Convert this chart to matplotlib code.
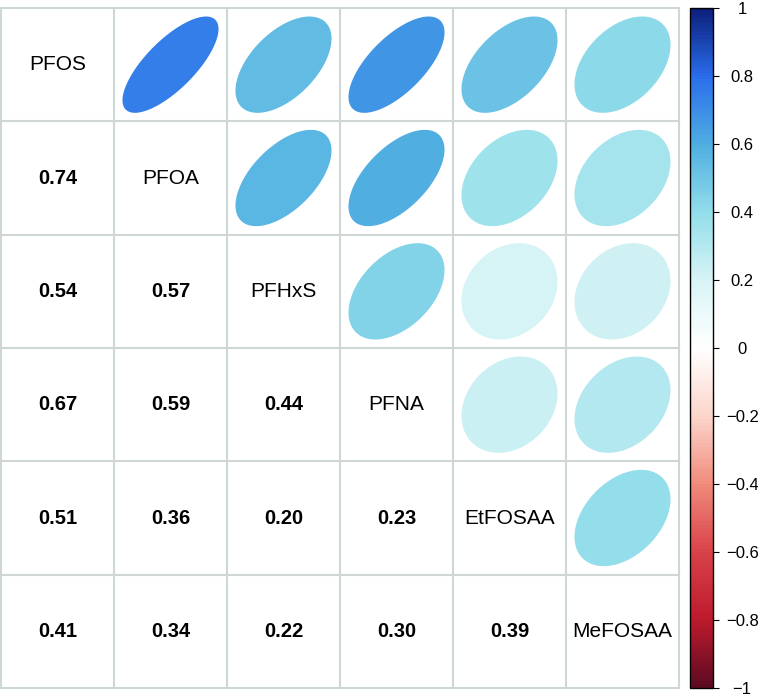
import numpy as np
import matplotlib.pyplot as plt
from matplotlib.colors import LinearSegmentedColormap, Normalize
from matplotlib.patches import Polygon
import matplotlib as mpl

plt.rcParams['font.family'] = ['Liberation Sans', 'DejaVu Sans']

labels = ["PFOS", "PFOA", "PFHxS", "PFNA", "EtFOSAA", "MeFOSAA"]
corr = np.array([
    [1.00, 0.74, 0.54, 0.67, 0.51, 0.41],
    [0.74, 1.00, 0.57, 0.59, 0.36, 0.34],
    [0.54, 0.57, 1.00, 0.44, 0.20, 0.22],
    [0.67, 0.59, 0.44, 1.00, 0.23, 0.30],
    [0.51, 0.36, 0.20, 0.23, 1.00, 0.39],
    [0.41, 0.34, 0.22, 0.30, 0.39, 1.00],
])
cbar_ticks = [-1, -0.8, -0.6, -0.4, -0.2, 0, 0.2, 0.4, 0.6, 0.8, 1]
cbar_labels = ["\u22121", "\u22120.8", "\u22120.6", "\u22120.4", "\u22120.2", "0",
               "0.2", "0.4", "0.6", "0.8", "1"]

# palette sampled from the colour bar, -1 .. 1
pal = ["#5c0a22", "#be1b2d", "#d9434a", "#f08c7c", "#fcd6cb", "#ffffff",
       "#d8f4f6", "#92deea", "#4faee1", "#2a6eeb", "#0c1f7c"]
cmap = LinearSegmentedColormap.from_list("corr", pal, N=200)
norm = Normalize(-1, 1)

fig = plt.figure(figsize=(7.58, 7.0), dpi=100)
ax = fig.add_axes([1 / 758, 12 / 700, 678 / 758, 680 / 700])
n = len(labels)
ax.set_xlim(0, n)
ax.set_ylim(n, 0)
ax.set_axis_off()

gridcol = "#cfd6d6"
for k in range(n + 1):
    ax.plot([k, k], [0, n], color=gridcol, lw=1.5, zorder=1, clip_on=False)
    ax.plot([0, n], [k, k], color=gridcol, lw=1.5, zorder=1, clip_on=False)

t = np.linspace(0, 2 * np.pi, 99)
for i in range(n):
    for j in range(n):
        cx, cy = j + 0.5, i + 0.5
        r = corr[i, j]
        if i == j:
            ax.text(cx, cy, labels[i], ha="center", va="center", fontsize=15, color="black")
        elif i > j:
            ax.text(cx, cy, f"{r:.2f}", ha="center", va="center", fontsize=14.5,
                    fontweight="bold", color="black")
        else:
            # corrplot-style ellipse
            a = np.arccos(r) / 2
            ex = 0.85 * np.cos(t + a) / 2
            ey = 0.85 * np.cos(t - a) / 2
            pts = np.column_stack([cx + ex, cy - ey])
            ax.add_patch(Polygon(pts, closed=True, facecolor=cmap(norm(r)),
                                 edgecolor="none", zorder=2))

cax = fig.add_axes([690 / 758, 12 / 700, 23 / 758, 680 / 700])
cb = mpl.colorbar.ColorbarBase(cax, cmap=cmap, norm=norm, ticks=cbar_ticks)
cb.outline.set_linewidth(1.0)
cb.outline.set_edgecolor("black")
cax.tick_params(length=4, width=0.8, labelsize=12, pad=17)
cax.set_yticklabels(cbar_labels)
for lab in cax.get_yticklabels():
    lab.set_horizontalalignment("center")

fig.savefig("out.png", dpi=100)
